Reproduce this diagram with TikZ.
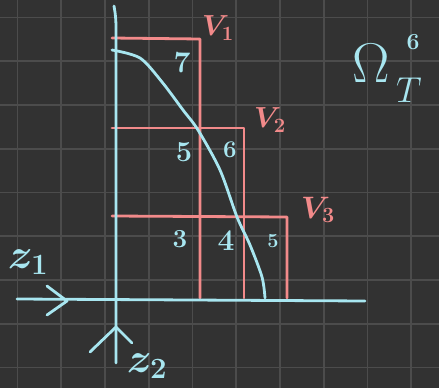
\documentclass[tikz,border=0pt]{standalone}
\usepackage{fix-cm}
\usepackage{amsmath}
\usepackage{tikz}
\usetikzlibrary{positioning}
\definecolor{bgdark}{HTML}{323232}
\definecolor{gridgray}{HTML}{4C4C4C}
\definecolor{pcyan}{HTML}{A8E6F0}
\definecolor{pred}{HTML}{F28A8A}
\tikzset{
  gridline/.style={gridgray, line width=1.8pt},
  axisline/.style={pcyan, line width=2.8pt, line cap=round, line join=round},
  regline/.style={pred, line width=2.8pt, line cap=round, line join=round},
  cellnum/.style={text=pcyan, inner sep=0pt},
  vlabel/.style={text=pred, inner sep=0pt},
  zlabel/.style={text=pcyan, inner sep=0pt},
}
\newcommand{\fsz}[1]{\fontsize{#1}{#1}\selectfont\bfseries\boldmath}
\newcommand{\fszthin}[1]{\fontsize{#1}{#1}\selectfont}

\begin{document}
\begin{tikzpicture}[x=1pt, y=-1pt]
  \fill[bgdark] (0,0) rectangle (439,388);
  \useasboundingbox (0,0) rectangle (439,388);
  \foreach \k in {0,...,9}
    \draw[gridline] ({17.4+43.75*\k},0) -- ({17.4+43.75*\k},388);
  \foreach \k in {0,...,8}
    \draw[gridline] (0,{17.4+43.75*\k}) -- (439,{17.4+43.75*\k});

  % the three regions
  \coordinate (v1a) at (112,38);
  \coordinate (v1b) at (200,39);
  \coordinate (v1c) at (200,298);
  \coordinate (v2a) at (112,128);
  \coordinate (v2b) at (244,128);
  \coordinate (v2c) at (244,298);
  \coordinate (v3a) at (112,216);
  \coordinate (v3b) at (287,217);
  \coordinate (v3c) at (287,298);
  \draw[regline] (v1a) -- (v1b) -- (v1c);
  \draw[regline] (v2a) -- (v2b) -- (v2c);
  \draw[regline] (v3a) -- (v3b) -- (v3c);

  \node[vlabel, font=\fsz{29}] (V1) at (218,28) {$V_{1}$};
  \node[vlabel, font=\fsz{29}] (V2) at (270,120) {$V_{2}$};
  \node[vlabel, font=\fsz{31}] (V3) at (318,210) {$V_{3}$};

  % axes
  \coordinate (z1start) at (17,299);
  \coordinate (z1end) at (365,301);
  \coordinate (z2top) at (114,6);
  \coordinate (z2bot) at (116,363);
  \draw[axisline] (z1start) -- (z1end);
  \draw[axisline] (z2top) .. controls (116,18) .. (116,40) -- (z2bot);
  \draw[axisline] (47,286) -- (67,301) -- (47,315);
  \draw[axisline] (90,352) -- (116,327) -- (132,343);
  \node[zlabel, font=\fsz{42}] (z1) at (28,262) {$z_{1}$};
  \node[zlabel, font=\fsz{42}] (z2) at (147,366) {$z_{2}$};

  % boundary curve
  \draw[axisline] plot[smooth] coordinates {(112,50) (140,58) (162,82)
    (183,110) (198,130) (220,170) (237,217) (250,245) (262,277) (265,298)};

  \node[cellnum, font=\fsz{30}] (n7) at (182,63) {7};
  \node[cellnum, font=\fsz{29}] (n5a) at (184,152) {5};
  \node[cellnum, font=\fsz{24}] (n6) at (230,150) {6};
  \node[cellnum, font=\fsz{26}] (n3) at (180,239) {3};
  \node[cellnum, font=\fsz{30}] (n4) at (226,241) {4};
  \node[cellnum, font=\fsz{20}] (n5b) at (273,241) {5};

  \node[zlabel, font=\fszthin{56}] (omega) at (371,63) {$\Omega$};
  \node[zlabel, font=\fsz{23}] (omsup) at (413,42) {6};
  \node[zlabel, font=\fszthin{36}] (omsub) at (409,90) {$T$};
\end{tikzpicture}
\end{document}
